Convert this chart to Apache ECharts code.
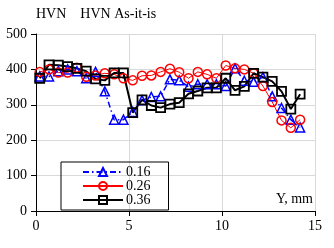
<!DOCTYPE html>
<html>
<head>
<meta charset="utf-8">
<script src="https://cdn.jsdelivr.net/npm/echarts@6/dist/echarts.min.js"></script>
<style>
html, body { margin: 0; padding: 0; background: #fff; }
#main { width: 334px; height: 248px; }
</style>
</head>
<body>
<div id="main"></div>
<script>
var dom = document.getElementById("main");
var myChart = echarts.init(dom);

// distance Y, mm
var posY = [0.2, 0.7, 1.2, 1.7, 2.2, 2.7, 3.2, 3.7, 4.2, 4.7,
    5.2, 5.7, 6.2, 6.7, 7.2, 7.7, 8.2, 8.7, 9.2, 9.7,
    10.2, 10.7, 11.2, 11.7, 12.2, 12.7, 13.2, 13.7, 14.2];

var hvn016 = [380, 380, 395, 400, 395, 375, 393, 338, 258, 258,
    280, 313, 322, 324, 372, 369, 351, 358, 358, 358,
    353, 403, 368, 365, 378, 324, 291, 258, 236];
var hvn026 = [393, 400, 391, 391, 405, 379, 383, 389, 386, 375,
    369, 382, 383, 393, 402, 392, 375, 393, 386, 375,
    411, 403, 400, 389, 353, 308, 256, 235, 258];
var hvn036 = [375, 413, 412, 408, 403, 395, 373, 369, 390, 390,
    278, 314, 298, 292, 302, 306, 331, 339, 348, 348,
    375, 341, 352, 389, 378, 366, 338, 288, 330];

var seriesNames = ['0.16', '0.26', '0.36'];

function pairs(vals) {
    return posY.map(function (x, i) {
        return [x, vals[i]];
    });
}

var serif = 'Liberation Serif';

option = {
    animation: false,
    backgroundColor: '#fff',
    title: {
        text: 'HVN    HVN As-it-is',
        left: 36,
        top: 7,
        padding: 0,
        textStyle: { fontFamily: serif, fontSize: 14, fontWeight: 'normal', color: '#000' }
    },
    grid: { left: 36, right: 19, top: 34, bottom: 37 },
    legend: {
        orient: 'vertical',
        left: 61,
        top: 162,
        padding: [3, 18, 3, 21],
        itemGap: 0,
        itemWidth: 40,
        itemHeight: 10,
        borderColor: '#000',
        borderWidth: 1,
        textStyle: { fontFamily: serif, fontSize: 14, color: '#000', padding: [0, 0, 0, -2] },
        data: seriesNames
    },
    xAxis: {
        type: 'value',
        min: 0,
        max: 15,
        interval: 5,
        axisLine: { lineStyle: { color: '#000', width: 1 } },
        axisTick: { show: true, length: 5, lineStyle: { color: '#000' } },
        axisLabel: { fontFamily: serif, fontSize: 14, color: '#000', margin: 8 },
        splitLine: { show: true, lineStyle: { color: '#d9d9d9', width: 1 } }
    },
    yAxis: {
        type: 'value',
        min: 0,
        max: 500,
        interval: 100,
        axisLine: { show: true, lineStyle: { color: '#000', width: 1 } },
        axisTick: { show: true, length: 5, lineStyle: { color: '#000' } },
        axisLabel: { fontFamily: serif, fontSize: 14, color: '#000', margin: 9 },
        splitLine: { show: true, lineStyle: { color: '#d9d9d9', width: 1 } }
    },
    graphic: [{
        type: 'text',
        right: 21,
        top: 192,
        style: { text: 'Y, mm', font: '14px "Liberation Serif"', fill: '#000' }
    }],
    series: [{
        name: seriesNames[0],
        type: 'line',
        data: pairs(hvn016),
        symbol: 'triangle',
        symbolSize: 9,
        itemStyle: { color: 'transparent', borderColor: '#0000ff', borderWidth: 1.5 },
        lineStyle: { color: '#0000ff', width: 1.5, type: [6, 3, 1.5, 3] }
    }, {
        name: seriesNames[1],
        type: 'line',
        data: pairs(hvn026),
        symbol: 'circle',
        symbolSize: 9,
        itemStyle: { color: 'transparent', borderColor: '#ff0000', borderWidth: 1.5 },
        lineStyle: { color: '#ff0000', width: 1 }
    }, {
        name: seriesNames[2],
        type: 'line',
        data: pairs(hvn036),
        symbol: 'rect',
        symbolSize: 9,
        itemStyle: { color: 'transparent', borderColor: '#000', borderWidth: 1.8 },
        lineStyle: { color: '#000', width: 2 }
    }]
};

if (option && typeof option === "object") {
    myChart.setOption(option, true);
}
</script>
</body>
</html>
